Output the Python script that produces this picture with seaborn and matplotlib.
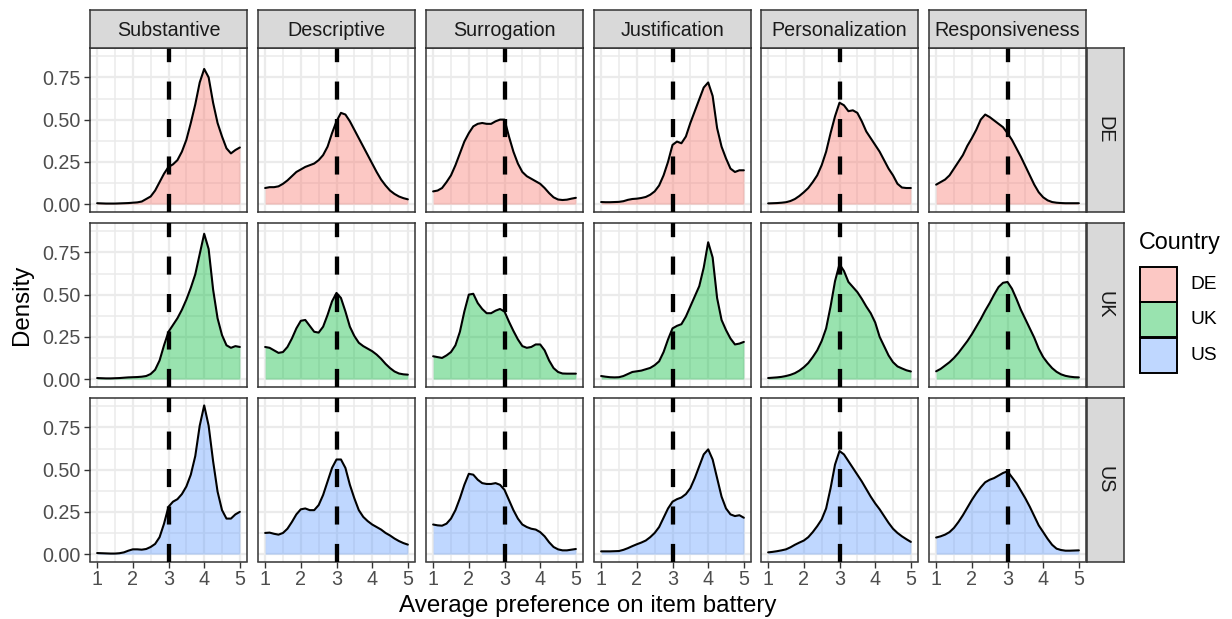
import numpy as np
import pandas as pd
import matplotlib
matplotlib.use("Agg")
import matplotlib.pyplot as plt
from matplotlib.patches import Rectangle
import seaborn as sns

batteries = ["Substantive", "Descriptive", "Surrogation", "Justification",
             "Personalization", "Responsiveness"]
countries = ["DE", "UK", "US"]
country_colors = ["#F8766D", "#00BA38", "#619CFF"]

# grid of preference values the densities were read at (1 to 5, step 1/8)
pref = np.linspace(1, 5, 33)

# densities, one list per country x battery
de_substantive = [0.005, 0.004, 0.003, 0.003, 0.003, 0.004, 0.005, 0.006, 0.008, 0.010, 0.015,
                  0.03, 0.045, 0.08, 0.13, 0.18, 0.22, 0.235, 0.26, 0.31, 0.38, 0.48, 0.59,
                  0.72, 0.80, 0.75, 0.60, 0.48, 0.40, 0.33, 0.30, 0.32, 0.335]
de_descriptive = [0.095, 0.10, 0.10, 0.105, 0.12, 0.14, 0.165, 0.19, 0.205, 0.22, 0.23, 0.24,
                  0.26, 0.29, 0.34, 0.42, 0.49, 0.54, 0.53, 0.49, 0.44, 0.39, 0.34, 0.29,
                  0.24, 0.19, 0.145, 0.11, 0.08, 0.06, 0.045, 0.035, 0.028]
de_surrogation = [0.075, 0.08, 0.095, 0.13, 0.17, 0.23, 0.30, 0.37, 0.42, 0.46, 0.475, 0.48,
                  0.475, 0.475, 0.49, 0.50, 0.50, 0.40, 0.31, 0.24, 0.19, 0.165, 0.15, 0.135,
                  0.12, 0.095, 0.065, 0.04, 0.027, 0.024, 0.026, 0.032, 0.037]
de_justification = [0.012, 0.011, 0.011, 0.012, 0.013, 0.017, 0.025, 0.03, 0.032, 0.036, 0.042,
                    0.055, 0.075, 0.11, 0.17, 0.25, 0.35, 0.37, 0.36, 0.40, 0.48, 0.55, 0.62,
                    0.69, 0.72, 0.64, 0.45, 0.34, 0.27, 0.21, 0.19, 0.20, 0.20]
de_personalization = [0.004, 0.005, 0.006, 0.008, 0.011, 0.018, 0.03, 0.048, 0.07, 0.095, 0.13,
                      0.17, 0.23, 0.31, 0.42, 0.52, 0.60, 0.585, 0.55, 0.555, 0.54, 0.49, 0.43,
                      0.39, 0.35, 0.31, 0.26, 0.21, 0.17, 0.12, 0.098, 0.095, 0.095]
de_responsiveness = [0.115, 0.13, 0.145, 0.17, 0.21, 0.25, 0.29, 0.345, 0.39, 0.44, 0.50, 0.53,
                     0.515, 0.495, 0.475, 0.455, 0.42, 0.38, 0.33, 0.28, 0.225, 0.17, 0.115,
                     0.07, 0.04, 0.022, 0.012, 0.008, 0.006, 0.005, 0.005, 0.005, 0.005]

uk_substantive = [0.006, 0.005, 0.004, 0.004, 0.005, 0.006, 0.008, 0.01, 0.011, 0.012, 0.014,
                  0.018, 0.03, 0.055, 0.11, 0.20, 0.28, 0.32, 0.36, 0.41, 0.47, 0.54, 0.62,
                  0.74, 0.86, 0.77, 0.53, 0.36, 0.26, 0.20, 0.185, 0.195, 0.19]
uk_descriptive = [0.19, 0.185, 0.17, 0.155, 0.16, 0.19, 0.24, 0.30, 0.345, 0.35, 0.315, 0.28,
                  0.275, 0.31, 0.38, 0.46, 0.51, 0.48, 0.40, 0.31, 0.255, 0.215, 0.195, 0.18,
                  0.165, 0.145, 0.12, 0.09, 0.065, 0.045, 0.033, 0.028, 0.026]
uk_surrogation = [0.135, 0.13, 0.125, 0.14, 0.16, 0.20, 0.28, 0.40, 0.50, 0.505, 0.45, 0.415,
                  0.39, 0.39, 0.405, 0.415, 0.40, 0.34, 0.285, 0.235, 0.195, 0.185, 0.19,
                  0.205, 0.205, 0.17, 0.11, 0.065, 0.042, 0.033, 0.032, 0.032, 0.032]
uk_justification = [0.018, 0.014, 0.011, 0.01, 0.011, 0.018, 0.03, 0.042, 0.046, 0.05, 0.058,
                    0.066, 0.082, 0.105, 0.16, 0.235, 0.30, 0.315, 0.325, 0.37, 0.43, 0.49,
                    0.55, 0.66, 0.81, 0.72, 0.48, 0.35, 0.29, 0.24, 0.205, 0.21, 0.22]
uk_personalization = [0.006, 0.008, 0.01, 0.013, 0.018, 0.025, 0.035, 0.05, 0.07, 0.095, 0.13,
                      0.17, 0.225, 0.30, 0.43, 0.58, 0.68, 0.64, 0.575, 0.545, 0.515, 0.475,
                      0.43, 0.39, 0.335, 0.25, 0.195, 0.14, 0.10, 0.075, 0.063, 0.052, 0.045]
uk_responsiveness = [0.046, 0.06, 0.08, 0.10, 0.125, 0.155, 0.19, 0.225, 0.265, 0.31, 0.355,
                     0.405, 0.45, 0.50, 0.545, 0.57, 0.575, 0.535, 0.475, 0.41, 0.355, 0.30,
                     0.245, 0.18, 0.13, 0.095, 0.065, 0.043, 0.028, 0.019, 0.014, 0.011, 0.01]

us_substantive = [0.006, 0.005, 0.004, 0.003, 0.003, 0.005, 0.01, 0.02, 0.028, 0.028, 0.026,
                  0.03, 0.042, 0.06, 0.10, 0.18, 0.28, 0.31, 0.325, 0.355, 0.40, 0.47, 0.58,
                  0.76, 0.88, 0.76, 0.55, 0.37, 0.26, 0.21, 0.21, 0.235, 0.25]
us_descriptive = [0.125, 0.127, 0.12, 0.115, 0.125, 0.15, 0.19, 0.235, 0.265, 0.27, 0.26, 0.26,
                  0.29, 0.35, 0.43, 0.51, 0.56, 0.56, 0.51, 0.41, 0.33, 0.26, 0.22, 0.195,
                  0.175, 0.16, 0.145, 0.125, 0.11, 0.092, 0.077, 0.065, 0.056]
us_surrogation = [0.175, 0.17, 0.168, 0.18, 0.21, 0.26, 0.33, 0.41, 0.475, 0.47, 0.44, 0.42,
                  0.415, 0.415, 0.42, 0.41, 0.38, 0.32, 0.26, 0.21, 0.175, 0.16, 0.15, 0.145,
                  0.13, 0.105, 0.07, 0.042, 0.028, 0.022, 0.022, 0.026, 0.03]
us_justification = [0.016, 0.016, 0.016, 0.017, 0.018, 0.025, 0.035, 0.047, 0.058, 0.068, 0.08,
                    0.10, 0.125, 0.16, 0.215, 0.27, 0.31, 0.325, 0.335, 0.355, 0.39, 0.45,
                    0.52, 0.59, 0.62, 0.56, 0.45, 0.34, 0.27, 0.235, 0.225, 0.23, 0.215]
us_personalization = [0.01, 0.013, 0.017, 0.022, 0.028, 0.04, 0.055, 0.068, 0.08, 0.10, 0.13,
                      0.165, 0.205, 0.27, 0.39, 0.53, 0.61, 0.59, 0.55, 0.51, 0.47, 0.43, 0.385,
                      0.34, 0.30, 0.265, 0.225, 0.185, 0.15, 0.125, 0.105, 0.088, 0.072]
us_responsiveness = [0.098, 0.105, 0.115, 0.13, 0.155, 0.19, 0.23, 0.275, 0.32, 0.36, 0.395,
                     0.425, 0.44, 0.45, 0.465, 0.48, 0.49, 0.455, 0.42, 0.375, 0.33, 0.28, 0.225,
                     0.17, 0.13, 0.09, 0.055, 0.032, 0.024, 0.02, 0.02, 0.021, 0.022]

curves = {
    "DE": [de_substantive, de_descriptive, de_surrogation, de_justification,
           de_personalization, de_responsiveness],
    "UK": [uk_substantive, uk_descriptive, uk_surrogation, uk_justification,
           uk_personalization, uk_responsiveness],
    "US": [us_substantive, us_descriptive, us_surrogation, us_justification,
           us_personalization, us_responsiveness],
}

rows = []
for c in countries:
    for b, dens in zip(batteries, curves[c]):
        for x, d in zip(pref, dens):
            rows.append((c, b, x, d))
df = pd.DataFrame(rows, columns=["Country", "Battery", "pref", "density"])

sns.set_theme(style="white")
plt.rcParams['font.family'] = ['Liberation Sans', 'DejaVu Sans']

W, H = 1232, 619
fig = plt.figure(figsize=(W / 100, H / 100), dpi=100)


def box(x0, y0, x1, y1):
    # pixel box (from top-left) -> figure fraction rect
    return [x0 / W, 1 - y1 / H, (x1 - x0) / W, (y1 - y0) / H]


col_left = [90, 258, 426, 594, 761, 929]
row_top = [48, 223, 398]
pw, ph = 157, 163.5
edge = "#333333"
grid_col = "#EBEBEB"

for i, c in enumerate(countries):
    col = country_colors[i]
    for j, b in enumerate(batteries):
        ax = fig.add_axes(box(col_left[j], row_top[i], col_left[j] + pw, row_top[i] + ph))
        sub = df[(df.Country == c) & (df.Battery == b)]

        ax.fill_between(sub.pref, sub.density, color=col, alpha=0.4, lw=0, zorder=2)
        sns.lineplot(data=sub, x="pref", y="density", color="black", lw=1.5,
                     ax=ax, legend=False, zorder=3)
        ax.axvline(3, color="black", lw=3.1, linestyle=(0, (4.2, 4.5)), zorder=4)

        ax.set_xlim(0.8, 5.2)
        ax.set_ylim(-0.044, 0.924)
        ax.set_xticks([1, 2, 3, 4, 5])
        ax.set_xticks([1.5, 2.5, 3.5, 4.5], minor=True)
        ax.set_yticks([0, 0.25, 0.5, 0.75])
        ax.set_yticks([0.125, 0.375, 0.625, 0.875], minor=True)
        ax.set_facecolor("white")
        ax.grid(which="major", color=grid_col, lw=1.6)
        ax.grid(which="minor", color=grid_col, lw=1.1)
        ax.set_axisbelow(True)
        for s in ax.spines.values():
            s.set_color(edge)
            s.set_linewidth(1.1)
            s.set_visible(True)
        ax.set_xlabel("")
        ax.set_ylabel("")

        ax.tick_params(which="minor", length=0)
        ax.tick_params(axis="both", which="major", labelsize=14.2, labelcolor="#4D4D4D",
                       color=edge, width=1.0, length=4.4, pad=2.5)
        if j == 0:
            ax.set_yticklabels(["0.00", "0.25", "0.50", "0.75"])
            ax.tick_params(axis="y", left=True)
        else:
            ax.tick_params(axis="y", left=False, labelleft=False)
        if i == len(countries) - 1:
            ax.set_xticklabels(["1", "2", "3", "4", "5"])
            ax.tick_params(axis="x", bottom=True, pad=1.5)
        else:
            ax.tick_params(axis="x", bottom=False, labelbottom=False)

# strips along the top (battery) and right side (country)
for j, b in enumerate(batteries):
    sax = fig.add_axes(box(col_left[j], 10, col_left[j] + pw, 48))
    sax.set_facecolor("#D9D9D9")
    sax.set_xticks([])
    sax.set_yticks([])
    for s in sax.spines.values():
        s.set_color(edge)
        s.set_linewidth(1.1)
    sax.text(0.5, 0.47, b, ha="center", va="center", fontsize=14.2, color="#1A1A1A",
             transform=sax.transAxes)

for i, c in enumerate(countries):
    sax = fig.add_axes(box(1086.5, row_top[i], 1124, row_top[i] + ph))
    sax.set_facecolor("#D9D9D9")
    sax.set_xticks([])
    sax.set_yticks([])
    for s in sax.spines.values():
        s.set_color(edge)
        s.set_linewidth(1.1)
    sax.text(0.5, 0.5, c, ha="center", va="center", rotation=-90, fontsize=14.2,
             color="#1A1A1A", transform=sax.transAxes)

# axis titles
fig.text(587.5 / W, 1 - 606 / H, "Average preference on item battery", ha="center",
         va="center", fontsize=17.4, color="black")
fig.text(22 / W, 1 - 305 / H, "Density", ha="center", va="center", rotation=90,
         fontsize=17.4, color="black")

# legend
lax = fig.add_axes([0, 0, 1, 1], facecolor="none")
lax.set_xlim(0, W)
lax.set_ylim(H, 0)
lax.axis("off")
lax.text(1139, 242, "Country", ha="left", va="center", fontsize=16.8, color="black")
key_top = [267, 302, 337.5]
for c, col, kt in zip(countries, country_colors, key_top):
    lax.add_patch(Rectangle((1140, kt), 37, 35, facecolor=col, alpha=0.4, lw=0))
    lax.add_patch(Rectangle((1140, kt), 37, 35, facecolor="none", edgecolor="black", lw=1.4))
    lax.text(1190, kt + 17.5, c, ha="left", va="center", fontsize=13.8, color="black")

fig.savefig("out.png", dpi=100)
